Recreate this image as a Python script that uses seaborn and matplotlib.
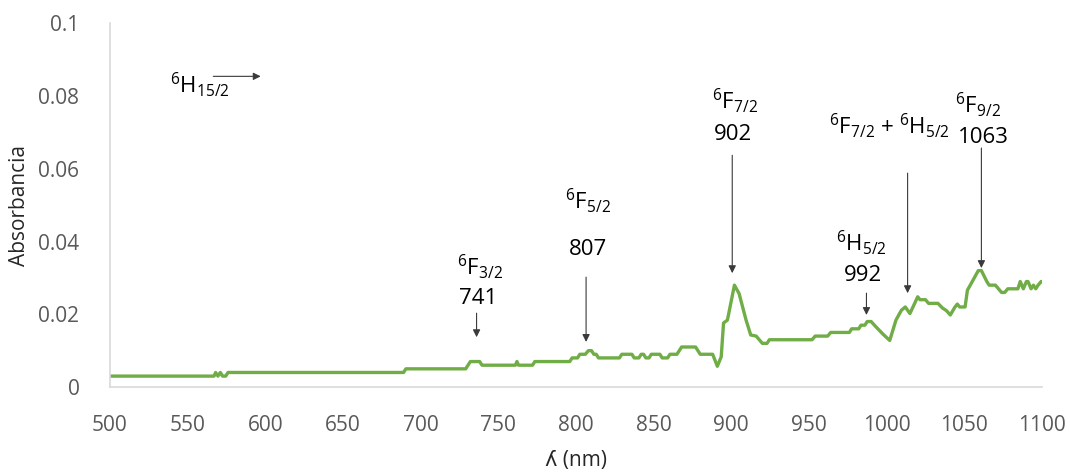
import matplotlib
matplotlib.use("Agg")
import matplotlib.pyplot as plt
import seaborn as sns
import pandas as pd

# ---- data ----
wavelength = [500, 567, 568, 569.5, 571, 572.5, 574.5, 576, 689, 690.5, 729, 730.5, 732, 738, 739.5,
              761, 762, 763, 772, 773.5, 796, 797.5, 801, 802.5, 806, 808, 810, 811.5, 813, 814.5,
              828, 829.5, 836, 837.5, 840.5, 842, 843.5, 845, 847, 848.5, 854, 855.5, 859, 860.5,
              865, 866.5, 868, 877, 878.5, 880, 888, 891, 893.5, 895, 897.5, 902, 905, 909.5, 912.5,
              916, 918, 920, 923, 924.5, 952, 954, 962, 964, 976, 977.5, 982, 983.5, 986, 987.5, 990,
              993, 997.5, 1002, 1006, 1009.5, 1012, 1015, 1020, 1021.5, 1025, 1027, 1033, 1036,
              1038.5, 1041, 1044, 1045.5, 1047, 1050.5, 1052, 1055, 1059, 1061, 1064.5, 1066, 1070,
              1072, 1074, 1076, 1078, 1084.5, 1086, 1088, 1090, 1091, 1093, 1094.5, 1096, 1097.5,
              1099.5, 1100]
absorbance = [0.003, 0.003, 0.004, 0.003, 0.004, 0.003, 0.003, 0.004, 0.004, 0.005, 0.005, 0.006, 0.007, 0.007, 0.006,
              0.006, 0.007, 0.006, 0.006, 0.007, 0.007, 0.008, 0.008, 0.009, 0.009, 0.010, 0.010, 0.009, 0.009, 0.008,
              0.008, 0.009, 0.009, 0.008, 0.008, 0.009, 0.009, 0.008, 0.008, 0.009, 0.009, 0.008, 0.008, 0.009,
              0.009, 0.010, 0.011, 0.011, 0.010, 0.009, 0.009, 0.0057, 0.0083, 0.0176, 0.0184, 0.028, 0.0257, 0.0184, 0.0143,
              0.014, 0.013, 0.012, 0.012, 0.013, 0.013, 0.014, 0.014, 0.015, 0.015, 0.016, 0.016, 0.017, 0.017, 0.018, 0.018,
              0.0166, 0.0146, 0.0128, 0.0184, 0.0211, 0.022, 0.0202, 0.0248, 0.024, 0.024, 0.023, 0.023, 0.0217,
              0.021, 0.0198, 0.022, 0.0228, 0.022, 0.022, 0.0266, 0.0289, 0.032, 0.032, 0.029, 0.028, 0.028,
              0.027, 0.026, 0.026, 0.027, 0.027, 0.029, 0.027, 0.029, 0.029, 0.027, 0.028, 0.027, 0.028,
              0.029, 0.029]

x_ticks = [500, 550, 600, 650, 700, 750, 800, 850, 900, 950, 1000, 1050, 1100]
y_ticks = [0, 0.02, 0.04, 0.06, 0.08, 0.1]
y_tick_labels = ["0", "0.02", "0.04", "0.06", "0.08", "0.1"]

# transition labels: (text, x, y) baselines, and arrows (x_start, y_start, x_end, y_end)
labels = [
    (r"$^{6}$F$_{3/2}$", 738, 0.0308),
    ("741", 737, 0.0228),
    (r"$^{6}$F$_{5/2}$", 807.7, 0.0491),
    ("807", 808, 0.0363),
    (r"$^{6}$F$_{7/2}$", 902.6, 0.0766),
    ("902", 901.3, 0.0679),
    (r"$^{6}$F$_{7/2}$ + $^{6}$H$_{5/2}$", 1002, 0.0697),
    (r"$^{6}$F$_{9/2}$", 1059, 0.0755),
    ("1063", 1062.6, 0.0671),
    (r"$^{6}$H$_{5/2}$", 984, 0.0376),
    ("992", 984.5, 0.0291),
]
arrows = [
    (736, 0.0203, 736, 0.0137),
    (806.5, 0.0302, 806.5, 0.0124),
    (900.6, 0.0637, 900.6, 0.0313),
    (1013.5, 0.0588, 1013.5, 0.0258),
    (1061, 0.0657, 1061, 0.0327),
    (987, 0.0258, 987, 0.0198),
    (566.5, 0.0854, 597, 0.0854),
]

df = pd.DataFrame({"wl": wavelength, "abs": absorbance})

sns.set_theme(style="white")
plt.rcParams["font.family"] = ["Open Sans", "DejaVu Sans"]
plt.rcParams["mathtext.fontset"] = "custom"
plt.rcParams["mathtext.rm"] = "Open Sans"
plt.rcParams["mathtext.it"] = "Open Sans:italic"
plt.rcParams["mathtext.bf"] = "Open Sans:bold"

fig = plt.figure(figsize=(10.7, 4.74), dpi=100)
ax = fig.add_axes([0.1028, 0.1835, 0.8710, 0.7675])

sns.lineplot(data=df, x="wl", y="abs", ax=ax, color="#70ad47", linewidth=2.4, sort=False)

ax.set_xlim(500, 1100)
ax.set_ylim(0, 0.1)
ax.set_xticks(x_ticks)
ax.set_xticklabels([str(t) for t in x_ticks])
ax.set_yticks(y_ticks)
ax.set_yticklabels(y_tick_labels)
ax.tick_params(axis="both", length=0, labelsize=15, labelcolor="#595959")
ax.tick_params(axis="x", pad=20)
ax.tick_params(axis="y", pad=22)

for side in ["top", "right"]:
    ax.spines[side].set_visible(False)
for side in ["left", "bottom"]:
    ax.spines[side].set_color("#d9d9d9")
    ax.spines[side].set_linewidth(1.2)

ax.set_ylabel("Absorbancia", fontsize=15, color="#262626", labelpad=6)
ax.set_xlabel("ʎ (nm)", fontsize=15, color="#262626", labelpad=10)

for txt, x, y in labels:
    ax.text(x, y, txt, ha="center", va="baseline", fontsize=16, color="black")
ax.text(538.7, 0.081, r"$^{6}$H$_{15/2}$", ha="left", va="baseline", fontsize=16, color="black")

for xs, ys, xe, ye in arrows:
    ax.annotate("", xy=(xe, ye), xytext=(xs, ys),
                arrowprops=dict(arrowstyle="-|>", color="#3a3a3a", lw=0.8,
                                shrinkA=0, shrinkB=0, mutation_scale=11))

fig.savefig("out.png", dpi=100)
